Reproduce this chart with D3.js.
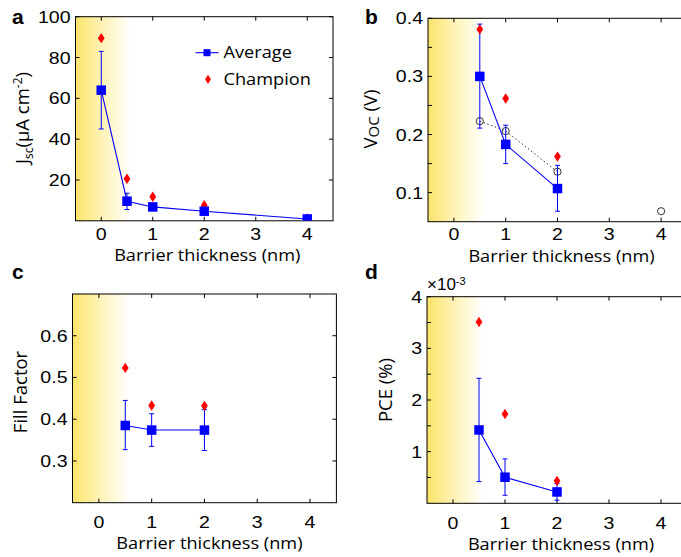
<!DOCTYPE html>
<html>
<head>
<meta charset="utf-8">
<script src="https://cdn.jsdelivr.net/npm/d3@7"></script>
<style>
  html, body { margin: 0; padding: 0; background: #fff; }
  svg { display: block; }
  .tick-label { font-family: "Liberation Sans", Arial, sans-serif; font-size: 17px; fill: #000; }
  .axis-label { font-family: "Open Sans", "Noto Sans", sans-serif; font-size: 17px; fill: #000; }
  .ylab { font-family: "Open Sans", "Noto Sans", sans-serif; font-size: 18.5px; fill: #000; }
  .panel-label { font-family: "Liberation Sans", Arial, sans-serif; font-size: 21px; font-weight: bold; fill: #000; }
</style>
</head>
<body>
<svg id="chart" width="681" height="557"></svg>
<script>
// ---------- data ----------
const xTickValues = [0, 1, 2, 3, 4];

// (a) Jsc
const jscX = [0, 0.5, 1, 2, 4];
const jscAvg = [64, 9.6, 6.8, 4.7, 0.9];
const jscLow = [45, 5.5, 5.9, 3.9, 0.4];
const jscHigh = [83, 13.5, 7.7, 5.5, 1.4];
const jscChamp = [89.5, 20.6, 11.8, 7.6, 1.2];
const jscTicks = [20, 40, 60, 80, 100];

// (b) Voc
const vocX = [0.5, 1, 2];
const vocAvg = [0.300, 0.183, 0.107];
const vocLow = [0.211, 0.150, 0.068];
const vocHigh = [0.390, 0.216, 0.147];
const vocChamp = [0.381, 0.262, 0.162];
const vocRefX = [0.5, 1, 2, 4];
const vocRef = [0.223, 0.206, 0.136, 0.068];
const vocTicks = [0.1, 0.15, 0.2, 0.25, 0.3, 0.35, 0.4];
const vocTickLabels = ["0.1", "", "0.2", "", "0.3", "", "0.4"];

// (c) Fill factor
const ffX = [0.5, 1, 2];
const ffAvg = [0.385, 0.374, 0.374];
const ffLow = [0.327, 0.335, 0.325];
const ffHigh = [0.445, 0.413, 0.423];
const ffChamp = [0.523, 0.433, 0.432];
const ffTicks = [0.3, 0.4, 0.5, 0.6];

// (d) PCE (x10^-3 %)
const pceX = [0.5, 1, 2];
const pceAvg = [1.42, 0.505, 0.22];
const pceLow = [0.42, 0.155, 0.06];
const pceHigh = [2.42, 0.86, 0.38];
const pceChamp = [3.51, 1.73, 0.435];
const pceTicks = [0.5, 1, 1.5, 2, 2.5, 3, 3.5, 4];
const pceTickLabels = ["", "1", "", "2", "", "3", "", "4"];

const legendLabels = ["Average", "Champion"];
const gradientEnd = 0.58; // barrier thickness where the shading fades out

// ---------- drawing ----------
const svg = d3.select("#chart");
const BLUE = "#0000ff", RED = "#ff0000";
const TICK_SX = 1.15, LABEL_SX = 1.07;

const defs = svg.append("defs");
const grad = defs.append("linearGradient").attr("id", "yellowFade")
  .attr("x1", "0%").attr("x2", "100%").attr("y1", "0%").attr("y2", "0%");
grad.append("stop").attr("offset", "0%").attr("stop-color", "#fbe46a");
grad.append("stop").attr("offset", "45%").attr("stop-color", "#fef2b2");
grad.append("stop").attr("offset", "100%").attr("stop-color", "#ffffff");

function sText(parent, cls, x, y, sx, anchor, str) {
  return parent.append("text").attr("class", cls)
    .attr("transform", `translate(${x},${y}) scale(${sx},1)`)
    .attr("text-anchor", anchor).text(str);
}

function panel(cfg) {
  const x = d3.scaleLinear().domain([-0.5, 4.5]).range([cfg.left, cfg.right]);
  const y = d3.scaleLinear().domain(cfg.yDomain).range([cfg.bottom, cfg.top]);
  const g = svg.append("g");
  const clipId = "clip-" + cfg.id;
  defs.append("clipPath").attr("id", clipId).append("rect")
    .attr("x", cfg.left).attr("y", cfg.top)
    .attr("width", cfg.right - cfg.left).attr("height", cfg.bottom - cfg.top);

  // shading
  g.append("rect")
    .attr("x", x(-0.5)).attr("y", cfg.top)
    .attr("width", x(gradientEnd) - x(-0.5)).attr("height", cfg.bottom - cfg.top)
    .attr("fill", "url(#yellowFade)");

  // frame
  g.append("rect").attr("x", cfg.left).attr("y", cfg.top)
    .attr("width", cfg.right - cfg.left).attr("height", cfg.bottom - cfg.top)
    .attr("fill", "none").attr("stroke", "#000").attr("stroke-width", 1);

  // ticks (inward, mirrored)
  const tl = 4;
  xTickValues.forEach(v => {
    g.append("line").attr("x1", x(v)).attr("x2", x(v)).attr("y1", cfg.bottom).attr("y2", cfg.bottom - tl).attr("stroke", "#000");
    g.append("line").attr("x1", x(v)).attr("x2", x(v)).attr("y1", cfg.top).attr("y2", cfg.top + tl).attr("stroke", "#000");
    sText(g, "tick-label", x(v), cfg.bottom + cfg.xTickOffset, TICK_SX, "middle", d3.format("d")(v));
  });
  cfg.yTicks.forEach((v, i) => {
    g.append("line").attr("x1", cfg.left).attr("x2", cfg.left + tl).attr("y1", y(v)).attr("y2", y(v)).attr("stroke", "#000");
    g.append("line").attr("x1", cfg.right).attr("x2", cfg.right - tl).attr("y1", y(v)).attr("y2", y(v)).attr("stroke", "#000");
    const lab = cfg.yTickLabels ? cfg.yTickLabels[i] : String(v);
    if (lab) sText(g, "tick-label", cfg.left - 5, y(v) + 6, TICK_SX, "end", lab);
  });

  const plot = g.append("g").attr("clip-path", `url(#${clipId})`);

  // reference dotted series
  if (cfg.ref) {
    const n = cfg.ref.lineCount;
    plot.append("path")
      .attr("d", d3.line().x(d => x(d[0])).y(d => y(d[1]))(cfg.ref.x.slice(0, n).map((v, i) => [v, cfg.ref.y[i]])))
      .attr("fill", "none").attr("stroke", "#333").attr("stroke-width", 1).attr("stroke-dasharray", "1.5,2.5");
    cfg.ref.x.forEach((v, i) => {
      plot.append("circle").attr("cx", x(v)).attr("cy", y(cfg.ref.y[i])).attr("r", 3.6)
        .attr("fill", "none").attr("stroke", "#333").attr("stroke-width", 1);
    });
  }

  // error bars
  cfg.xs.forEach((v, i) => {
    const cx = x(v);
    plot.append("line").attr("x1", cx).attr("x2", cx).attr("y1", y(cfg.low[i])).attr("y2", y(cfg.high[i]))
      .attr("stroke", BLUE).attr("stroke-width", 1);
    [cfg.low[i], cfg.high[i]].forEach(e => {
      plot.append("line").attr("x1", cx - 2.5).attr("x2", cx + 2.5).attr("y1", y(e)).attr("y2", y(e))
        .attr("stroke", BLUE).attr("stroke-width", 1);
    });
  });
  // average line
  plot.append("path")
    .attr("d", d3.line().x(d => x(d[0])).y(d => y(d[1]))(cfg.xs.map((v, i) => [v, cfg.avg[i]])))
    .attr("fill", "none").attr("stroke", BLUE).attr("stroke-width", 1.1);
  // champion diamonds
  const diamond = (cx, cy, w, h) => `M${cx},${cy - h}L${cx + w},${cy}L${cx},${cy + h}L${cx - w},${cy}Z`;
  cfg.xs.forEach((v, i) => {
    plot.append("path").attr("d", diamond(x(v), y(cfg.champ[i]), 3.4, 5.2)).attr("fill", RED);
  });
  // average squares
  const s = 9.5;
  cfg.xs.forEach((v, i) => {
    plot.append("rect").attr("x", x(v) - s / 2).attr("y", y(cfg.avg[i]) - s / 2)
      .attr("width", s).attr("height", s).attr("fill", BLUE);
  });

  // x label
  sText(g, "axis-label", (cfg.left + cfg.right) / 2 + cfg.xLabelDX, cfg.xLabelY, LABEL_SX, "middle", "Barrier thickness (nm)");

  // y label
  const yl = g.append("text").attr("class", "ylab")
    .attr("transform", `translate(${cfg.yLabelX},${cfg.yLabelCY}) rotate(-90)`)
    .attr("text-anchor", "middle");
  cfg.yLabel(yl);

  // panel letter
  g.append("text").attr("class", "panel-label").attr("x", cfg.letterX).attr("y", cfg.letterY).text(cfg.id);

  return {x, y, g};
}

// (a)
const pa = panel({
  id: "a", left: 75.5, right: 333, top: 16.7, bottom: 220.8, yDomain: [0, 100],
  yTicks: jscTicks, xs: jscX, avg: jscAvg, low: jscLow, high: jscHigh, champ: jscChamp,
  xTickOffset: 19, xLabelY: 261, xLabelDX: 3, yLabelX: 29, yLabelCY: 118, letterX: 12, letterY: 24,
  yLabel: t => {
    t.append("tspan").text("J");
    t.append("tspan").attr("font-size", "12px").attr("dy", 4).text("sc");
    t.append("tspan").attr("dy", -4).text("(μA cm");
    t.append("tspan").attr("font-size", "12px").attr("dy", -7).text("-2");
    t.append("tspan").attr("dy", 7).text(")");
  }
});

// legend in (a)
{
  const lg = pa.g.append("g");
  const lx = 207, ly1 = 52.7, ly2 = 79.3;
  lg.append("line").attr("x1", lx - 11.5).attr("x2", lx + 11.5).attr("y1", ly1).attr("y2", ly1)
    .attr("stroke", BLUE).attr("stroke-width", 1.1);
  lg.append("rect").attr("x", lx - 3.5).attr("y", ly1 - 3.5).attr("width", 7).attr("height", 7).attr("fill", BLUE);
  lg.append("path").attr("d", `M${lx + 1},${ly2 - 4.6}L${lx + 4},${ly2}L${lx + 1},${ly2 + 4.6}L${lx - 2},${ly2}Z`).attr("fill", RED);
  sText(lg, "axis-label", 223.5, 58, LABEL_SX, "start", legendLabels[0]);
  sText(lg, "axis-label", 223.5, 85, LABEL_SX, "start", legendLabels[1]);
}

// (b)
panel({
  id: "b", left: 428, right: 687, top: 18.3, bottom: 221.7, yDomain: [0.05, 0.4],
  yTicks: vocTicks, yTickLabels: vocTickLabels,
  xs: vocX, avg: vocAvg, low: vocLow, high: vocHigh, champ: vocChamp,
  ref: {x: vocRefX, y: vocRef, lineCount: 3},
  xTickOffset: 18, xLabelY: 261.5, xLabelDX: 4, yLabelX: 377, yLabelCY: 119, letterX: 365, letterY: 24,
  yLabel: t => {
    t.append("tspan").text("V");
    t.append("tspan").attr("font-size", "15px").attr("dy", 2).text("OC");
    t.append("tspan").attr("dy", -2).text(" (V)");
  }
});

// (c)
panel({
  id: "c", left: 72.5, right: 336.4, top: 294, bottom: 502.7, yDomain: [0.2, 0.7],
  yTicks: ffTicks, yTickLabels: ffTicks.map(d3.format(".1f")),
  xs: ffX, avg: ffAvg, low: ffLow, high: ffHigh, champ: ffChamp,
  xTickOffset: 25.5, xLabelY: 549, xLabelDX: 5, yLabelX: 26.5, yLabelCY: 392, letterX: 12, letterY: 279,
  yLabel: t => t.text("Fill Factor")
});

// (d)
const pd = panel({
  id: "d", left: 427, right: 687, top: 296.7, bottom: 503.3, yDomain: [0, 4],
  yTicks: pceTicks, yTickLabels: pceTickLabels,
  xs: pceX, avg: pceAvg, low: pceLow, high: pceHigh, champ: pceChamp,
  xTickOffset: 26, xLabelY: 550, xLabelDX: 4, yLabelX: 392, yLabelCY: 390, letterX: 365, letterY: 279,
  yLabel: t => t.text("PCE (%)")
});
{
  const t = pd.g.append("text").attr("class", "tick-label").attr("x", 427).attr("y", 290).attr("font-size", "14px");
  t.append("tspan").text("×10");
  t.append("tspan").attr("font-size", "11px").attr("dy", -5).text("-3");
}
</script>
</body>
</html>
